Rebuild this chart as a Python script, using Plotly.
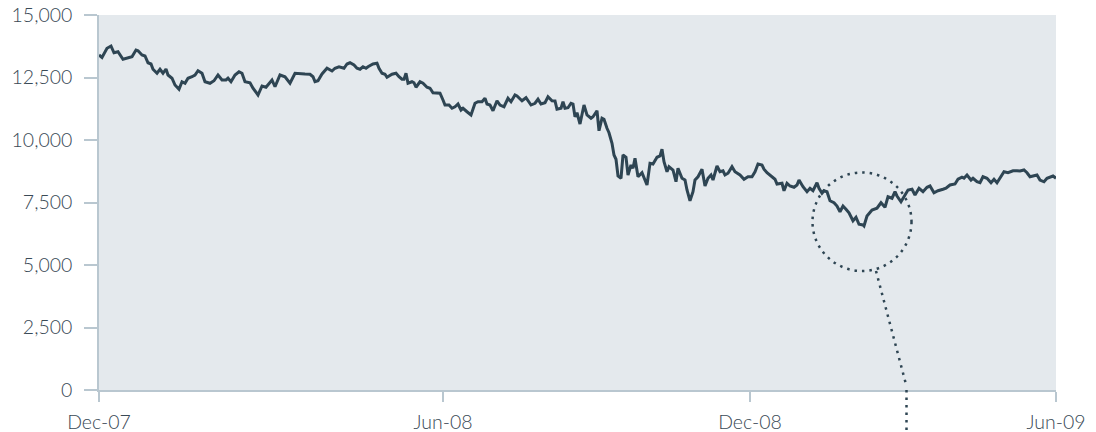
import plotly.graph_objects as go

# Trading-session index (approx.) and index level
sessions = [
    0, 1.2, 3.2, 4.8, 6.0, 7.6, 9.6, 11.6, 13.2, 14.8, 15.6, 17.2, 18.4, 19.6, 20.8, 21.6,
    23.2, 24.4, 25.6, 26.8, 27.6, 29.2, 30.4, 32.0, 33.2, 34.4, 35.6, 37.2, 38.4, 39.6,
    41.2, 42.4, 44.4, 46.0, 47.6, 49.2, 50.8, 51.6, 52.8, 54.4, 56.0, 57.2, 58.4, 60.4,
    61.6, 63.6, 65.2, 66.8, 67.6, 69.2, 70.4, 72.4, 74.4, 76.4, 78.4, 80.4, 82.4, 84.4,
    85.6, 86.4, 87.6, 89.2, 91.2, 93.2, 94.4, 96.0, 98.0, 99.2, 100.4, 102.0, 103.2,
    104.4, 105.6, 106.8, 107.6, 109.6, 111.2, 112.0, 113.2, 114.4, 115.2, 117.2, 118.8,
    120.0, 121.2, 122.0, 122.8, 123.6, 125.2, 126.0, 126.8, 128.4, 129.6, 131.2, 132.4,
    133.6, 135.2, 136.4, 137.6, 138.4, 140.0, 141.2, 142.4, 143.6, 144.8, 145.6, 147.2,
    148.8, 150.4, 151.6, 153.2, 154.4, 155.2, 156.4, 157.6, 159.2, 160.4, 162.0, 163.6,
    164.8, 166.4, 167.2, 169.2, 170.8, 172.8, 174.4, 175.6, 176.8, 178.4, 179.6, 181.2,
    182.4, 183.2, 184.8, 185.6, 186.4, 187.6, 188.8, 189.6, 190.4, 191.2, 192.4, 194.0,
    195.2, 196.8, 197.6, 199.2, 200.0, 201.2, 202.0, 203.2, 204.0, 205.2, 206.0, 206.8,
    207.6, 208.8, 209.6, 210.8, 211.6, 212.8, 213.6, 214.4, 215.6, 217.2, 219.2, 220.4,
    221.6, 223.2, 224.4, 225.2, 226.0, 227.2, 228.0, 229.6, 230.8, 231.6, 233.2, 234.4,
    235.2, 236.4, 237.6, 238.4, 239.6, 241.2, 242.4, 243.6, 244.8, 245.6, 247.2, 248.4,
    249.6, 250.4, 251.6, 253.2, 254.4, 256.4, 258.0, 259.6, 261.2, 262.4, 263.6, 265.2,
    266.0, 267.2, 269.2, 270.4, 271.2, 273.2, 274.0, 275.2, 276.4, 278.0, 279.2, 280.0,
    281.6, 283.2, 284.4, 285.6, 287.2, 288.0, 289.2, 290.0, 291.2, 292.4, 294.0, 295.2,
    296.4, 297.6, 298.8, 300.0, 301.6, 302.8, 304.0, 305.6, 306.0, 307.2, 309.2, 311.2,
    312.8, 314.4, 315.6, 317.2, 318.4, 319.2, 320.8, 322.0, 323.6, 325.2, 326.4, 328.0,
    329.6, 331.2, 332.4, 334.0, 335.6, 337.6, 338.8, 340.4, 342.4, 343.6, 345.2, 346.0,
    347.2, 348.8, 349.6, 351.2, 352.4, 353.6, 355.2, 356.8, 358.0, 359.2, 360.8, 362.0,
    363.6, 365.6, 367.2, 368.4, 370.0, 371.2, 372.4, 373.6, 375.2, 376.4, 378.0, 379.2,
    380.8, 381.6, 382.8,
]

close = [
    13400, 13300, 13670, 13760, 13490, 13530, 13230, 13270, 13330, 13600, 13570, 13400,
    13360, 13090, 13040, 12830, 12670, 12830, 12670, 12840, 12600, 12470, 12200, 12030,
    12330, 12270, 12470, 12530, 12600, 12770, 12670, 12330, 12270, 12370, 12600, 12400,
    12400, 12470, 12330, 12600, 12730, 12670, 12330, 12290, 12070, 11800, 12160, 12110,
    12200, 12400, 12130, 12600, 12530, 12270, 12670, 12670, 12640, 12630, 12530, 12330,
    12370, 12640, 12870, 12760, 12870, 12930, 12870, 13040, 13090, 13000, 12870, 12830,
    12930, 12870, 12930, 13040, 13070, 12870, 12670, 12630, 12510, 12630, 12670, 12530,
    12430, 12430, 12670, 12270, 12330, 12290, 12110, 12330, 12270, 12110, 12070, 11890,
    11870, 11870, 11600, 11400, 11400, 11270, 11330, 11440, 11200, 11270, 11130, 11000,
    11470, 11530, 11530, 11670, 11440, 11400, 11170, 11570, 11400, 11330, 11670, 11530,
    11800, 11760, 11570, 11690, 11400, 11470, 11630, 11440, 11490, 11730, 11570, 11560,
    11230, 11270, 11530, 11270, 11290, 11470, 11440, 10930, 11090, 10640, 11400, 11000,
    10870, 10930, 11170, 10370, 10870, 10830, 10470, 10290, 9870, 9400, 9230, 8560,
    8470, 9400, 9310, 8600, 9000, 8870, 9270, 8530, 8690, 8200, 9070, 9040,
    9310, 9360, 9630, 9130, 8730, 8930, 8800, 8330, 8870, 8470, 8400, 8000,
    7570, 7930, 8400, 8530, 8830, 8160, 8470, 8600, 8400, 8960, 8730, 8770,
    8600, 8670, 8930, 8730, 8600, 8430, 8530, 8530, 8730, 9040, 9000, 8830,
    8690, 8530, 8430, 8240, 8270, 7970, 8270, 8160, 8110, 8200, 8400, 8130,
    7930, 8070, 7970, 8290, 8070, 7870, 7970, 7930, 7570, 7490, 7360, 7130,
    7360, 7230, 7090, 6770, 6910, 6630, 6600, 6560, 6960, 7200, 7270, 7490,
    7310, 7730, 7670, 7930, 7760, 7530, 7730, 8000, 8030, 7800, 8070, 7930,
    8110, 8160, 7890, 7970, 8030, 8070, 8200, 8240, 8430, 8510, 8470, 8600,
    8400, 8470, 8330, 8290, 8530, 8470, 8290, 8430, 8290, 8530, 8730, 8690,
    8770, 8770, 8760, 8800, 8690, 8530, 8560, 8600, 8400, 8330, 8470, 8510,
    8560, 8470,
]

x_tick_vals = [0, 137.6, 260.4, 382.8]
x_tick_text = ["Dec-07", "Jun-08", "Dec-08", "Jun-09"]
y_tick_vals = [0, 2500, 5000, 7500, 10000, 12500, 15000]

# highlighted trough (March 2009 low)
circle_x = [285.4, 325.0]
circle_y = [4760, 8700]

LINE = "#2e4553"
AXIS = "#b9c7d0"
TEXT = "#3a4a56"
FONT = dict(family="Lato, 'Liberation Sans', Arial, sans-serif", size=19.5, color=TEXT, weight=300)

fig = go.Figure()
fig.add_trace(go.Scatter(
    x=sessions, y=close, mode="lines",
    line=dict(color=LINE, width=3),
    hoverinfo="skip", showlegend=False,
))

dots = dict(color=LINE, width=2.5, dash="2.5px,5px")
fig.add_shape(type="circle", xref="x", yref="y",
              x0=circle_x[0], x1=circle_x[1], y0=circle_y[0], y1=circle_y[1],
              line=dots, layer="above")
fig.add_shape(type="line", xref="x", yref="y",
              x0=310.8, y0=circle_y[0], x1=323.0, y1=150, line=dots, layer="above")
fig.add_shape(type="line", xref="x", yref="paper",
              x0=323.0, y0=0.0, x1=323.0, y1=-0.12, line=dots, layer="above")

fig.update_layout(
    width=1096, height=432,
    margin=dict(l=99, r=40, t=15, b=42),
    paper_bgcolor="white",
    plot_bgcolor="#e4e9ed",
    font=FONT,
    showlegend=False,
    xaxis=dict(
        range=[0, 382.8], tickmode="array", tickvals=x_tick_vals, ticktext=x_tick_text,
        showgrid=False, zeroline=False, showline=True, linecolor=AXIS, linewidth=1.5,
        ticks="outside", ticklen=10, tickwidth=1.5, tickcolor=AXIS,
        tickfont=FONT, ticklabelstandoff=4, fixedrange=True, automargin=False,
    ),
    yaxis=dict(
        range=[0, 15000], tickmode="array", tickvals=y_tick_vals, tickformat=",",
        showgrid=False, zeroline=False, showline=True, linecolor=AXIS, linewidth=1.5,
        ticks="outside", ticklen=13, tickwidth=1.5, tickcolor=AXIS,
        tickfont=FONT, ticklabelstandoff=8, fixedrange=True, automargin=False,
    ),
)

fig.write_html(
    "out.html",
    config={"displayModeBar": False},
    post_script="document.body.style.margin='0px';document.body.style.overflow='hidden';",
)
